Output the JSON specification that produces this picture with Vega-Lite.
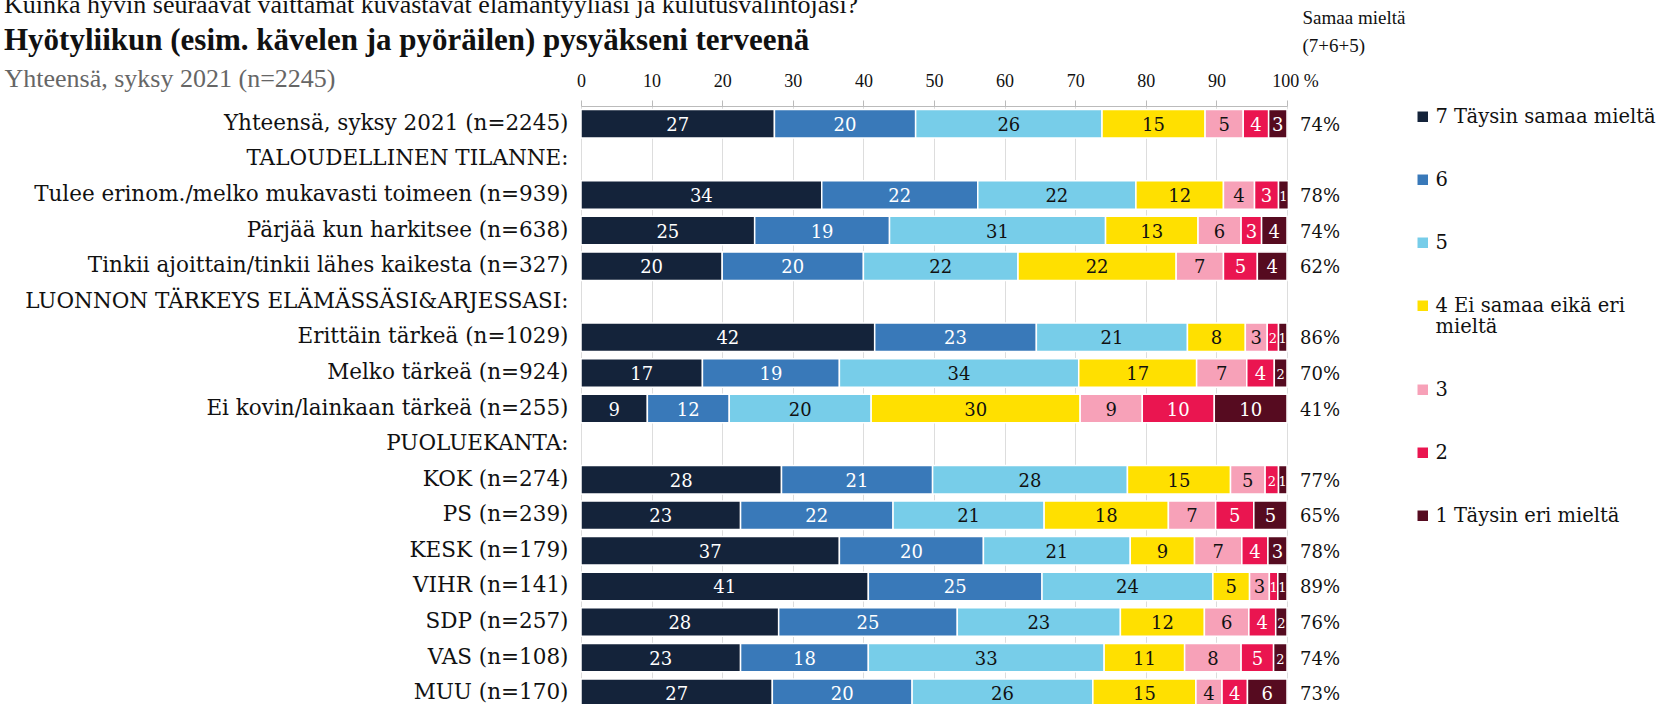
{
  "$schema": "https://vega.github.io/schema/vega-lite/v6.json",
  "width": 706,
  "height": 605,
  "autosize": {"type": "none"},
  "padding": {"left": 581, "top": 106, "right": 393, "bottom": 0},
  "background": "white",
  "config": {"font": "DejaVu Serif", "view": {"stroke": null}},
  "title": {
    "text": "Kuinka hyvin seuraavat väittämät kuvastavat elämäntyyliäsi ja kulutusvalintojasi?",
    "subtitle": "Hyötyliikun (esim. kävelen ja pyöräilen) pysyäkseni terveenä",
    "anchor": "start",
    "frame": "group",
    "orient": "top",
    "font": "Liberation Serif",
    "fontSize": 26,
    "fontWeight": "normal",
    "color": "#111111",
    "subtitleFont": "Liberation Serif",
    "subtitleFontSize": 31,
    "subtitleFontWeight": "bold",
    "subtitleColor": "#111111",
    "subtitlePadding": 8,
    "offset": 0,
    "dx": -577,
    "dy": 48
  },
  "datasets": {
    "seg": [
      {"g": "Yhteensä, syksy 2021 (n=2245)", "l": 7, "v": 27.4},
      {"g": "Yhteensä, syksy 2021 (n=2245)", "l": 6, "v": 20.0},
      {"g": "Yhteensä, syksy 2021 (n=2245)", "l": 5, "v": 26.4},
      {"g": "Yhteensä, syksy 2021 (n=2245)", "l": 4, "v": 14.6},
      {"g": "Yhteensä, syksy 2021 (n=2245)", "l": 3, "v": 5.4},
      {"g": "Yhteensä, syksy 2021 (n=2245)", "l": 2, "v": 3.6},
      {"g": "Yhteensä, syksy 2021 (n=2245)", "l": 1, "v": 2.6},
      {"g": "Tulee erinom./melko mukavasti toimeen (n=939)", "l": 7, "v": 34.1},
      {"g": "Tulee erinom./melko mukavasti toimeen (n=939)", "l": 6, "v": 22.1},
      {"g": "Tulee erinom./melko mukavasti toimeen (n=939)", "l": 5, "v": 22.4},
      {"g": "Tulee erinom./melko mukavasti toimeen (n=939)", "l": 4, "v": 12.4},
      {"g": "Tulee erinom./melko mukavasti toimeen (n=939)", "l": 3, "v": 4.4},
      {"g": "Tulee erinom./melko mukavasti toimeen (n=939)", "l": 2, "v": 3.4},
      {"g": "Tulee erinom./melko mukavasti toimeen (n=939)", "l": 1, "v": 1.4},
      {"g": "Pärjää kun harkitsee (n=638)", "l": 7, "v": 24.6},
      {"g": "Pärjää kun harkitsee (n=638)", "l": 6, "v": 19.1},
      {"g": "Pärjää kun harkitsee (n=638)", "l": 5, "v": 30.6},
      {"g": "Pärjää kun harkitsee (n=638)", "l": 4, "v": 13.1},
      {"g": "Pärjää kun harkitsee (n=638)", "l": 3, "v": 6.1},
      {"g": "Pärjää kun harkitsee (n=638)", "l": 2, "v": 2.9},
      {"g": "Pärjää kun harkitsee (n=638)", "l": 1, "v": 3.6},
      {"g": "Tinkii ajoittain/tinkii lähes kaikesta (n=327)", "l": 7, "v": 20.0},
      {"g": "Tinkii ajoittain/tinkii lähes kaikesta (n=327)", "l": 6, "v": 20.0},
      {"g": "Tinkii ajoittain/tinkii lähes kaikesta (n=327)", "l": 5, "v": 21.9},
      {"g": "Tinkii ajoittain/tinkii lähes kaikesta (n=327)", "l": 4, "v": 22.4},
      {"g": "Tinkii ajoittain/tinkii lähes kaikesta (n=327)", "l": 3, "v": 6.7},
      {"g": "Tinkii ajoittain/tinkii lähes kaikesta (n=327)", "l": 2, "v": 4.8},
      {"g": "Tinkii ajoittain/tinkii lähes kaikesta (n=327)", "l": 1, "v": 4.2},
      {"g": "Erittäin tärkeä (n=1029)", "l": 7, "v": 41.6},
      {"g": "Erittäin tärkeä (n=1029)", "l": 6, "v": 22.9},
      {"g": "Erittäin tärkeä (n=1029)", "l": 5, "v": 21.4},
      {"g": "Erittäin tärkeä (n=1029)", "l": 4, "v": 8.2},
      {"g": "Erittäin tärkeä (n=1029)", "l": 3, "v": 3.1},
      {"g": "Erittäin tärkeä (n=1029)", "l": 2, "v": 1.6},
      {"g": "Erittäin tärkeä (n=1029)", "l": 1, "v": 1.2},
      {"g": "Melko tärkeä (n=924)", "l": 7, "v": 17.2},
      {"g": "Melko tärkeä (n=924)", "l": 6, "v": 19.4},
      {"g": "Melko tärkeä (n=924)", "l": 5, "v": 33.9},
      {"g": "Melko tärkeä (n=924)", "l": 4, "v": 16.7},
      {"g": "Melko tärkeä (n=924)", "l": 3, "v": 7.1},
      {"g": "Melko tärkeä (n=924)", "l": 2, "v": 3.9},
      {"g": "Melko tärkeä (n=924)", "l": 1, "v": 1.8},
      {"g": "Ei kovin/lainkaan tärkeä (n=255)", "l": 7, "v": 9.4},
      {"g": "Ei kovin/lainkaan tärkeä (n=255)", "l": 6, "v": 11.6},
      {"g": "Ei kovin/lainkaan tärkeä (n=255)", "l": 5, "v": 20.1},
      {"g": "Ei kovin/lainkaan tärkeä (n=255)", "l": 4, "v": 29.6},
      {"g": "Ei kovin/lainkaan tärkeä (n=255)", "l": 3, "v": 8.8},
      {"g": "Ei kovin/lainkaan tärkeä (n=255)", "l": 2, "v": 10.2},
      {"g": "Ei kovin/lainkaan tärkeä (n=255)", "l": 1, "v": 10.3},
      {"g": "KOK (n=274)", "l": 7, "v": 28.4},
      {"g": "KOK (n=274)", "l": 6, "v": 21.4},
      {"g": "KOK (n=274)", "l": 5, "v": 27.6},
      {"g": "KOK (n=274)", "l": 4, "v": 14.6},
      {"g": "KOK (n=274)", "l": 3, "v": 4.9},
      {"g": "KOK (n=274)", "l": 2, "v": 1.9},
      {"g": "KOK (n=274)", "l": 1, "v": 1.2},
      {"g": "PS (n=239)", "l": 7, "v": 22.6},
      {"g": "PS (n=239)", "l": 6, "v": 21.6},
      {"g": "PS (n=239)", "l": 5, "v": 21.4},
      {"g": "PS (n=239)", "l": 4, "v": 17.6},
      {"g": "PS (n=239)", "l": 3, "v": 6.7},
      {"g": "PS (n=239)", "l": 2, "v": 5.4},
      {"g": "PS (n=239)", "l": 1, "v": 4.7},
      {"g": "KESK (n=179)", "l": 7, "v": 36.6},
      {"g": "KESK (n=179)", "l": 6, "v": 20.4},
      {"g": "KESK (n=179)", "l": 5, "v": 20.8},
      {"g": "KESK (n=179)", "l": 4, "v": 9.1},
      {"g": "KESK (n=179)", "l": 3, "v": 6.7},
      {"g": "KESK (n=179)", "l": 2, "v": 3.7},
      {"g": "KESK (n=179)", "l": 1, "v": 2.7},
      {"g": "VIHR (n=141)", "l": 7, "v": 40.7},
      {"g": "VIHR (n=141)", "l": 6, "v": 24.6},
      {"g": "VIHR (n=141)", "l": 5, "v": 24.2},
      {"g": "VIHR (n=141)", "l": 4, "v": 5.2},
      {"g": "VIHR (n=141)", "l": 3, "v": 2.8},
      {"g": "VIHR (n=141)", "l": 2, "v": 1.2},
      {"g": "VIHR (n=141)", "l": 1, "v": 1.3},
      {"g": "SDP (n=257)", "l": 7, "v": 28.0},
      {"g": "SDP (n=257)", "l": 6, "v": 25.3},
      {"g": "SDP (n=257)", "l": 5, "v": 23.1},
      {"g": "SDP (n=257)", "l": 4, "v": 11.9},
      {"g": "SDP (n=257)", "l": 3, "v": 6.3},
      {"g": "SDP (n=257)", "l": 2, "v": 3.8},
      {"g": "SDP (n=257)", "l": 1, "v": 1.6},
      {"g": "VAS (n=108)", "l": 7, "v": 22.6},
      {"g": "VAS (n=108)", "l": 6, "v": 18.1},
      {"g": "VAS (n=108)", "l": 5, "v": 33.4},
      {"g": "VAS (n=108)", "l": 4, "v": 11.4},
      {"g": "VAS (n=108)", "l": 3, "v": 8.0},
      {"g": "VAS (n=108)", "l": 2, "v": 4.6},
      {"g": "VAS (n=108)", "l": 1, "v": 1.9},
      {"g": "MUU (n=170)", "l": 7, "v": 27.1},
      {"g": "MUU (n=170)", "l": 6, "v": 19.8},
      {"g": "MUU (n=170)", "l": 5, "v": 25.6},
      {"g": "MUU (n=170)", "l": 4, "v": 14.6},
      {"g": "MUU (n=170)", "l": 3, "v": 3.7},
      {"g": "MUU (n=170)", "l": 2, "v": 3.6},
      {"g": "MUU (n=170)", "l": 1, "v": 5.6}
    ],
    "tot": [
      {"g": "Yhteensä, syksy 2021 (n=2245)", "p": 0.74},
      {"g": "Tulee erinom./melko mukavasti toimeen (n=939)", "p": 0.78},
      {"g": "Pärjää kun harkitsee (n=638)", "p": 0.74},
      {"g": "Tinkii ajoittain/tinkii lähes kaikesta (n=327)", "p": 0.62},
      {"g": "Erittäin tärkeä (n=1029)", "p": 0.86},
      {"g": "Melko tärkeä (n=924)", "p": 0.70},
      {"g": "Ei kovin/lainkaan tärkeä (n=255)", "p": 0.41},
      {"g": "KOK (n=274)", "p": 0.77},
      {"g": "PS (n=239)", "p": 0.65},
      {"g": "KESK (n=179)", "p": 0.78},
      {"g": "VIHR (n=141)", "p": 0.89},
      {"g": "SDP (n=257)", "p": 0.76},
      {"g": "VAS (n=108)", "p": 0.74},
      {"g": "MUU (n=170)", "p": 0.73}
    ]
  },
  "layer": [
    {
      "data": {"name": "seg"},
      "mark": {"type": "bar", "stroke": "white", "strokeWidth": 1.5},
      "encoding": {
        "y": {
          "field": "g",
          "type": "nominal",
          "scale": {
            "domain": [
              "Yhteensä, syksy 2021 (n=2245)",
              "TALOUDELLINEN TILANNE:",
              "Tulee erinom./melko mukavasti toimeen (n=939)",
              "Pärjää kun harkitsee (n=638)",
              "Tinkii ajoittain/tinkii lähes kaikesta (n=327)",
              "LUONNON TÄRKEYS ELÄMÄSSÄSI&ARJESSASI:",
              "Erittäin tärkeä (n=1029)",
              "Melko tärkeä (n=924)",
              "Ei kovin/lainkaan tärkeä (n=255)",
              "PUOLUEKANTA:",
              "KOK (n=274)",
              "PS (n=239)",
              "KESK (n=179)",
              "VIHR (n=141)",
              "SDP (n=257)",
              "VAS (n=108)",
              "MUU (n=170)"
            ],
            "paddingInner": 0.2,
            "paddingOuter": 0.1
          },
          "axis": {
            "title": "Yhteensä, syksy 2021 (n=2245)",
            "titleFont": "Liberation Serif",
            "titleFontSize": 26,
            "titleFontWeight": "normal",
            "titleColor": "#666666",
            "titleAngle": 0,
            "titleAlign": "left",
            "titleBaseline": "middle",
            "titleX": -577,
            "titleY": -28,
            "labelFont": "DejaVu Serif",
            "labelFontSize": 21.5,
            "labelColor": "#111111",
            "labelLimit": 800,
            "labelPadding": 13,
            "ticks": false,
            "domain": false,
            "grid": false
          }
        },
        "x": {
          "field": "v",
          "type": "quantitative",
          "stack": "zero",
          "scale": {"domain": [0, 100], "nice": false},
          "axis": {
            "orient": "top",
            "values": [0, 5, 10, 15, 20, 25, 30, 35, 40, 45, 50, 55, 60, 65, 70, 75, 80, 85, 90, 95, 100],
            "labelExpr": "datum.value == 100 ? '100 %' : (datum.value % 10 == 0 ? datum.label : '')",
            "labelOffset": {"condition": {"test": "datum.value == 100", "value": 8}, "value": 0},
            "labelFont": "Liberation Serif",
            "labelFontSize": 18,
            "labelColor": "#111111",
            "labelPadding": 10,
            "labelFlush": false,
            "labelOverlap": false,
            "tickColor": "#bbbbbb",
            "tickSize": 6,
            "domainColor": "#bbbbbb",
            "grid": true,
            "gridColor": "#dddddd",
            "gridWidth": 1,
            "title": ["Samaa mieltä", "(7+6+5)"],
            "titleFont": "Liberation Serif",
            "titleFontSize": 19,
            "titleFontWeight": "normal",
            "titleColor": "#111111",
            "titleAlign": "left",
            "titleBaseline": "top",
            "titleLineHeight": 28,
            "titleX": 721,
            "titleY": -98
          }
        },
        "order": {"field": "l", "sort": "descending"},
        "color": {
          "field": "l",
          "type": "nominal",
          "scale": {
            "domain": [7, 6, 5, 4, 3, 2, 1],
            "range": ["#14233a", "#3979b9", "#77cde9", "#ffe000", "#f7a1b8", "#ea1550", "#560b20"]
          },
          "legend": {
            "title": null,
            "orient": "none",
            "legendX": 832,
            "legendY": 1,
            "symbolType": "square",
            "symbolSize": 110,
            "symbolStrokeWidth": 0,
            "labelFont": "DejaVu Serif",
            "labelFontSize": 19.5,
            "labelColor": "#111111",
            "labelOffset": 3,
            "labelLimit": 400,
            "rowPadding": 42,
            "labelExpr": "datum.value == 7 ? '7 Täysin samaa mieltä' : (datum.value == 4 ? ['4 Ei samaa eikä eri', 'mieltä'] : (datum.value == 1 ? '1 Täysin eri mieltä' : datum.label))"
          }
        }
      }
    },
    {
      "data": {"name": "seg"},
      "mark": {"type": "text", "font": "DejaVu Serif", "baseline": "middle", "align": "center", "dy": 2},
      "encoding": {
        "y": {"field": "g", "type": "nominal"},
        "x": {"field": "v", "type": "quantitative", "stack": "zero", "bandPosition": 0.5},
        "order": {"field": "l", "sort": "descending"},
        "text": {"field": "v", "type": "quantitative", "format": ".0f"},
        "size": {"condition": {"test": "datum.v < 2", "value": 13}, "value": 18},
        "color": {"condition": {"test": "datum.l >= 6 || datum.l <= 2", "value": "#ffffff"}, "value": "#111111"}
      }
    },
    {
      "data": {"name": "tot"},
      "mark": {"type": "text", "font": "DejaVu Serif", "fontSize": 18, "align": "left", "baseline": "middle", "dx": 13, "dy": 2, "color": "#111111"},
      "encoding": {
        "y": {"field": "g", "type": "nominal"},
        "x": {"datum": 100, "type": "quantitative"},
        "text": {"field": "p", "type": "quantitative", "format": ".0%"}
      }
    }
  ]
}
